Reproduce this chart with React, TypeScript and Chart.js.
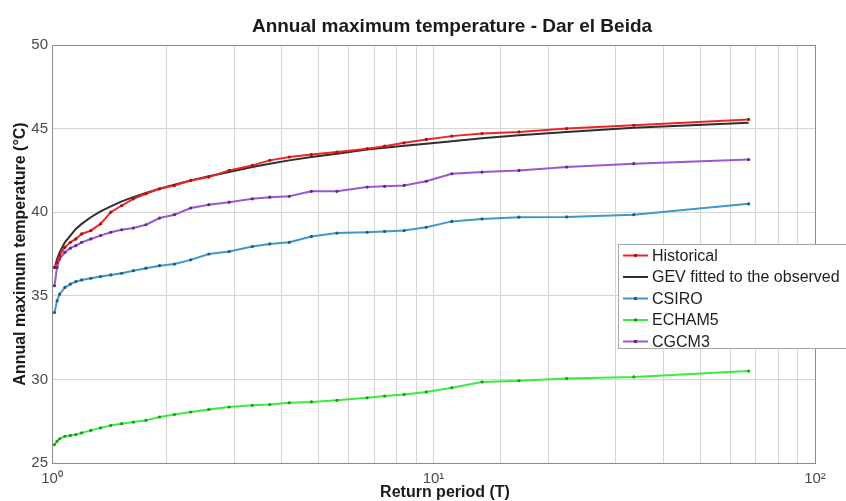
import React, { useEffect, useRef } from 'react';
import { Chart, registerables } from 'chart.js';

Chart.register(...registerables);

const FONT = '"Liberation Sans", Arial, Helvetica, sans-serif';

const chartTitle = 'Annual maximum temperature - Dar el Beida';
const xAxisTitle = 'Return period (T)';
const yAxisTitle = 'Annual maximum temperature (°C)';

const seriesNames = ['Historical', 'GEV fitted to the observed', 'CSIRO', 'ECHAM5', 'CGCM3'];

const returnPeriod = [
  1.015, 1.031, 1.047, 1.081, 1.117, 1.155, 1.196, 1.264, 1.34, 1.426,
  1.523, 1.634, 1.763, 1.914, 2.094, 2.31, 2.577, 2.913, 3.35, 3.722,
  4.188, 4.786, 5.583, 6.7, 7.444, 8.375, 9.571, 11.17, 13.4, 16.75,
  22.33, 33.5, 67,
];

const historical = [
  36.7, 37.0, 37.4, 37.9, 38.2, 38.4, 38.7, 38.9, 39.3, 40.0,
  40.4, 40.8, 41.1, 41.4, 41.6, 41.9, 42.1, 42.5, 42.8, 43.1,
  43.3, 43.45, 43.6, 43.8, 43.95, 44.15, 44.35, 44.55, 44.7, 44.8,
  45.0, 45.2, 45.55,
];

const gevFitted = [
  36.6, 37.2, 37.6, 38.2, 38.6, 39.0, 39.3, 39.7, 40.05, 40.35,
  40.65, 40.9, 41.15, 41.4, 41.65, 41.9, 42.15, 42.4, 42.7, 42.9,
  43.1, 43.3, 43.5, 43.75, 43.85, 43.98, 44.1, 44.25, 44.42, 44.6,
  44.8, 45.05, 45.35,
];

const csiro = [
  34.0, 34.7, 35.1, 35.5, 35.7, 35.85, 35.95, 36.05, 36.15, 36.25,
  36.35, 36.5, 36.65, 36.8, 36.9, 37.15, 37.5, 37.65, 37.95, 38.1,
  38.2, 38.55, 38.75, 38.8, 38.85, 38.9, 39.1, 39.45, 39.6, 39.7,
  39.72, 39.85, 40.5,
];

const echam5 = [
  26.1, 26.3, 26.45, 26.6, 26.65, 26.7, 26.8, 26.95, 27.1, 27.25,
  27.35, 27.45, 27.55, 27.75, 27.9, 28.05, 28.2, 28.35, 28.45, 28.5,
  28.6, 28.65, 28.75, 28.9, 29.0, 29.1, 29.25, 29.5, 29.85, 29.92,
  30.05, 30.15, 30.5,
];

const cgcm3 = [
  35.6, 36.7, 37.2, 37.6, 37.85, 38.0, 38.2, 38.4, 38.6, 38.8,
  38.95, 39.05, 39.25, 39.65, 39.85, 40.25, 40.45, 40.6, 40.8, 40.9,
  40.95, 41.25, 41.25, 41.5, 41.55, 41.6, 41.85, 42.3, 42.4, 42.5,
  42.7, 42.9, 43.15,
];

const xTickLabels: Record<string, string> = { '1': '10\u2070', '10': '10\u00B9', '100': '10\u00B2' };
const yMin = 25;
const yMax = 50;
const yStep = 5;

const lineColors = ['#f02424', '#2e2e2e', '#3f97cc', '#3cec3c', '#9d57d2'];
const markerColors = ['#a01414', '#2e2e2e', '#1f5a85', '#1c9a1c', '#5e2a8c'];
const hasMarkers = [true, false, true, true, true];

const seriesValues = [historical, gevFitted, csiro, echam5, cgcm3];

const decorPlugin = {
  id: 'decor',
  afterDraw(chart: any) {
    const { ctx, chartArea: a } = chart;
    ctx.save();
    // frame
    ctx.strokeStyle = '#8c8c8c';
    ctx.lineWidth = 1;
    ctx.strokeRect(Math.round(a.left) + 0.5, Math.round(a.top) + 0.5, Math.round(a.right - a.left), Math.round(a.bottom - a.top));

    // title
    ctx.fillStyle = '#1a1a1a';
    ctx.textAlign = 'center';
    ctx.textBaseline = 'alphabetic';
    ctx.font = `bold 19px ${FONT}`;
    ctx.fillText(chartTitle, 452, 32);

    // x axis title
    ctx.font = `bold 16px ${FONT}`;
    ctx.fillText(xAxisTitle, 445, 497);

    // y axis title
    ctx.save();
    ctx.translate(25, 254);
    ctx.rotate(-Math.PI / 2);
    ctx.fillText(yAxisTitle, 0, 0);
    ctx.restore();

    // legend
    const lx = 618;
    const ly = 244;
    ctx.fillStyle = '#ffffff';
    ctx.fillRect(lx, ly, 260, 104);
    ctx.strokeStyle = '#a8a8a8';
    ctx.strokeRect(lx + 0.5, ly + 0.5, 260, 104);
    ctx.font = `16px ${FONT}`;
    ctx.textAlign = 'left';
    ctx.textBaseline = 'middle';
    chart.data.datasets.forEach((ds: any, i: number) => {
      const cy = 255.5 + i * 21.5;
      ctx.strokeStyle = ds.borderColor;
      ctx.lineWidth = 2;
      ctx.beginPath();
      ctx.moveTo(623, cy);
      ctx.lineTo(648, cy);
      ctx.stroke();
      if (ds.pointRadius > 0) {
        ctx.fillStyle = ds.pointBackgroundColor;
        ctx.beginPath();
        ctx.arc(635.5, cy, 1.8, 0, Math.PI * 2);
        ctx.fill();
      }
      ctx.fillStyle = '#1e1e1e';
      ctx.fillText(ds.label, 652, cy + 1);
    });
    ctx.restore();
  },
};

export default function App() {
  const canvasRef = useRef<HTMLCanvasElement | null>(null);

  useEffect(() => {
    if (!canvasRef.current) return;
    const datasets = seriesNames.map((name, i) => ({
      label: name,
      data: returnPeriod.map((t, k) => ({ x: t, y: seriesValues[i][k] })),
      borderColor: lineColors[i],
      backgroundColor: lineColors[i],
      borderWidth: 2,
      pointRadius: hasMarkers[i] ? 1.6 : 0,
      pointBorderWidth: 0,
      pointBackgroundColor: markerColors[i],
      tension: 0,
      fill: false,
    }));

    const chart = new Chart(canvasRef.current, {
      type: 'line',
      data: { datasets },
      options: {
        animation: false,
        responsive: false,
        devicePixelRatio: 1,
        layout: { padding: { top: 45, right: 31, left: 0, bottom: 0 } },
        plugins: {
          legend: { display: false },
          title: { display: false },
          tooltip: { enabled: false },
        },
        scales: {
          x: {
            type: 'logarithmic',
            min: 1,
            max: 100,
            afterFit: (s: any) => {
              s.height = 38;
            },
            grid: { color: '#d6d6d6', drawTicks: false, lineWidth: 1 },
            border: { color: '#8c8c8c' },
            ticks: {
              autoSkip: false,
              maxRotation: 0,
              padding: 7,
              color: '#4a4a4a',
              font: { family: FONT, size: 15 },
              callback: (v: any) => {
                const key = String(Math.round(Number(v)));
                const lg = Math.log10(Number(v));
                if (Math.abs(lg - Math.round(lg)) < 1e-9 && xTickLabels[key]) return xTickLabels[key];
                return '';
              },
            },
          },
          y: {
            min: yMin,
            max: yMax,
            afterFit: (s: any) => {
              s.width = 52;
            },
            grid: { color: '#d6d6d6', drawTicks: false, lineWidth: 1 },
            border: { color: '#8c8c8c' },
            ticks: {
              stepSize: yStep,
              padding: 4,
              color: '#4a4a4a',
              font: { family: FONT, size: 15 },
            },
          },
        },
      },
      plugins: [decorPlugin],
    } as any);

    return () => chart.destroy();
  }, []);

  return (
    <div style={{ position: 'absolute', left: 0, top: 0, width: 846, height: 501, background: '#ffffff' }}>
      <canvas ref={canvasRef} width={846} height={501} />
    </div>
  );
}
